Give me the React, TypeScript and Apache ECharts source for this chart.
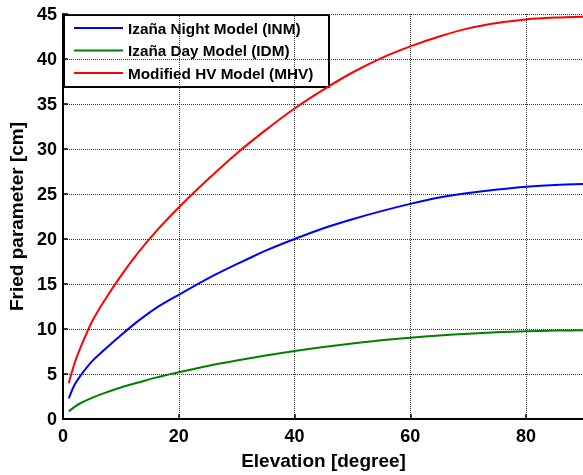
import React, { useEffect, useRef } from "react";
import * as echarts from "echarts";

const elevation = [1, 2, 3, 5, 7, 10, 13, 16, 20, 25, 30, 35, 40, 45, 50, 55, 60, 65, 70, 75, 80, 85, 90];
const inm = [2.3, 3.8, 4.8, 6.4, 7.6, 9.3, 10.9, 12.3, 13.8, 15.6, 17.2, 18.7, 20.0, 21.2, 22.2, 23.1, 23.9, 24.6, 25.1, 25.5, 25.8, 26.0, 26.1];
const idm = [0.85, 1.35, 1.75, 2.35, 2.85, 3.5, 4.05, 4.6, 5.2, 5.9, 6.5, 7.05, 7.55, 8.0, 8.4, 8.75, 9.03, 9.28, 9.48, 9.63, 9.74, 9.82, 9.85];
const mhv = [4.0, 6.2, 7.9, 10.8, 13.0, 15.9, 18.5, 20.8, 23.5, 26.6, 29.5, 32.1, 34.5, 36.6, 38.5, 40.1, 41.4, 42.5, 43.4, 44.0, 44.4, 44.6, 44.7];
const seriesNames = ["Izaña Night Model (INM)", "Izaña Day Model (IDM)", "Modified HV Model (MHV)"];
const seriesColors = ["#0000ff", "#008000", "#ff0000"];

const FONT = "'Liberation Sans', Arial, Helvetica, sans-serif";

export default function App() {
  const ref = useRef<HTMLDivElement>(null);
  useEffect(() => {
    if (!ref.current) return;
    const chart = echarts.init(ref.current, undefined, { renderer: "svg" });
    const toPairs = (ys: number[]) => elevation.map((x, i) => [x, ys[i]]);
    const allData = [inm, idm, mhv];

    const legendChildren: any[] = [
      {
        type: "rect",
        shape: { x: 0, y: 0, width: 265, height: 72 },
        style: { fill: "#fff", stroke: "#000", lineWidth: 2 },
      },
    ];
    seriesNames.forEach((name, i) => {
      const cy = 13 + i * 22.5;
      legendChildren.push({
        type: "line",
        shape: { x1: 10, y1: cy, x2: 59, y2: cy },
        style: { stroke: seriesColors[i], lineWidth: 2 },
      });
      legendChildren.push({
        type: "text",
        x: 64,
        y: cy,
        style: {
          text: name,
          fill: "#000",
          font: `bold 15.3px ${FONT}`,
          verticalAlign: "middle",
          align: "left",
        },
      });
    });

    chart.setOption({
      animation: false,
      grid: { left: 63, top: 14, width: 521, height: 405, outerBoundsMode: "none" },
      graphic: [
        { type: "group", left: 63, top: 14, z: 100, children: legendChildren },
      ],
      xAxis: {
        type: "value",
        min: 0,
        max: 90,
        interval: 20,
        name: "Elevation [degree]",
        nameLocation: "middle",
        nameGap: 32,
        nameTextStyle: { fontFamily: FONT, fontWeight: "bold", fontSize: 19, color: "#000" },
        axisLine: { show: true, lineStyle: { color: "#000", width: 2 } },
        axisTick: { show: true, inside: true, length: 5, lineStyle: { color: "#000", width: 1.5 } },
        splitLine: { show: true, lineStyle: { color: "#333", width: 1, type: "dotted" } },
        axisLabel: {
          fontFamily: FONT,
          fontWeight: "bold",
          fontSize: 18,
          color: "#000",
          margin: 8,
          formatter: (v: number) => (v === 90 ? "" : String(v)),
        },
      },
      yAxis: {
        type: "value",
        min: 0,
        max: 45,
        interval: 5,
        name: "Fried parameter [cm]",
        nameLocation: "middle",
        nameGap: 30,
        nameTextStyle: { fontFamily: FONT, fontWeight: "bold", fontSize: 19, color: "#000" },
        axisLine: { show: true, lineStyle: { color: "#000", width: 2 } },
        axisTick: { show: true, inside: true, length: 5, lineStyle: { color: "#000", width: 1.5 } },
        splitLine: { show: true, lineStyle: { color: "#333", width: 1, type: "dotted" } },
        axisLabel: { fontFamily: FONT, fontWeight: "bold", fontSize: 18, color: "#000", margin: 6 },
      },
      series: seriesNames.map((name, i) => ({
        name,
        type: "line",
        data: toPairs(allData[i]),
        smooth: 0.3,
        showSymbol: false,
        symbol: "none",
        lineStyle: { color: seriesColors[i], width: 2 },
        itemStyle: { color: seriesColors[i] },
      })),
    });
    return () => chart.dispose();
  }, []);
  return <div ref={ref} style={{ position: "fixed", left: 0, top: 0, width: 583, height: 475 }} />;
}
